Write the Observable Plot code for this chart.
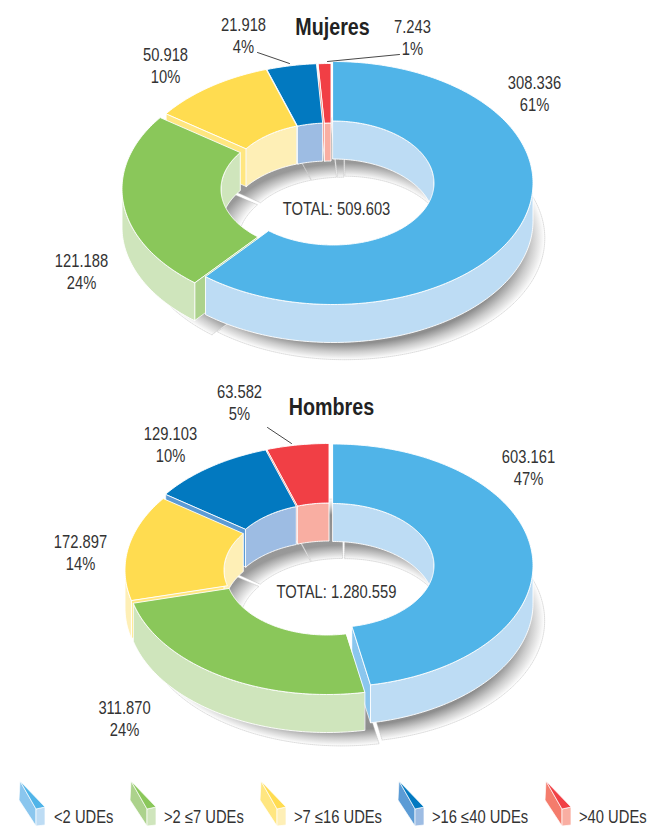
<!DOCTYPE html>
<html><head><meta charset="utf-8">
<script src="https://cdn.jsdelivr.net/npm/d3@7"></script>
<script src="https://cdn.jsdelivr.net/npm/@observablehq/plot@0.6"></script>
<style>
html,body{margin:0;padding:0;background:#fff;overflow:hidden}
svg text{font-family:"Liberation Sans",Arial,sans-serif;}
#legend{display:block}
</style></head><body>
<div id="chart"></div>
<script>
// ---- data ----
const categories = ["<2 UDEs", ">2 ≤7 UDEs", ">7 ≤16 UDEs", ">16 ≤40 UDEs", ">40 UDEs"];
const mujeresValues = [308336, 121188, 50918, 21918, 7243];
const mujeresPercent = [61, 24, 10, 4, 1];
const hombresValues = [603161, 311870, 172897, 129103, 63582];
const hombresPercent = [47, 24, 14, 10, 5];
const titles = ["Mujeres", "Hombres"];
const totals = [509603, 1280559];

// ---- styling ----
const topColors  = ["#50B4E8", "#8AC75A", "#FFDC50", "#0279C0", "#F13F45"];
const cutColors  = ["#8AC6EE", "#ACD28C", "#FFE680", "#5B9BD5", "#F47C6C"];
const wallColors = ["#BDDCF4", "#CFE5BC", "#FEEFB6", "#9DBCE3", "#F9AEA2"];
const textColor = "#333";
const condense = .82;

// ---- layout ----
const W = 649, H = 770;
const rx = 200, ry = 121.5, rxIn = 101, ryIn = 62, depth = 38;
const shadowDx = 14, shadowDy = 54;
const mujeresCenters = [[333,183],[322,189],[328,185],[329,185],[331,185]];
const hombresCenters = [[333,565.5],[327,573],[325,570],[327.5,565.5],[329,565]];
const mujeresLabelPos = [[534,88],[81,266],[165,60],[243,30],[412,32]];
const hombresLabelPos = [[528,462],[124,713],[80,547],[170,439],[239,397]];
const titlePos = [[332,34],[331,414]];
const totalPos = [[336,214],[336,597]];
const leaderLines = [
  [[257,52],[289,63]],
  [[327,61],[399,54]],
  [[267,427],[291,443]]
];

const fmt = d3.formatLocale({decimal:",",thousands:".",grouping:[3],currency:["",""]}).format(",d");
const rad = d => d * Math.PI / 180;
const pt = (c, a, rX, rY, dx = 0, dy = 0) => [c[0] + dx + rX * Math.sin(rad(a)), c[1] + dy - rY * Math.cos(rad(a))];

// ribbon between two arcs, sampled along the sector's angle range
function ribbon(key, a0, a1, fa, fb) {
  const rows = [], n = Math.max(1, Math.ceil(a1 - a0));
  for (let i = 0; i <= n; i++) {
    const a = a0 + (a1 - a0) * i / n, p = fa(a), q = fb(a);
    rows.push({key, x1: p[0], y1: p[1], x2: q[0], y2: q[1]});
  }
  return rows;
}
const clip = (a, b, lo, hi) => { const s = Math.max(a, lo), e = Math.min(b, hi); return e > s ? [s, e] : null; };

const donuts = [
  {id: "m", pct: mujeresPercent, centers: mujeresCenters},
  {id: "h", pct: hombresPercent, centers: hombresCenters}
];
const sectors = donuts.flatMap(d => {
  const ends = Array.from(d3.cumsum(d.pct), v => v * 3.6);
  const mean = [d3.mean(d.centers, c => c[0]), d3.mean(d.centers, c => c[1])];
  return d.pct.map((_, i) => ({
    id: `${d.id}${i}`, i, c: d.centers[i], a0: i ? ends[i-1] : 0, a1: ends[i],
    sc: [(d.centers[i][0] + mean[0]) / 2 + shadowDx, (d.centers[i][1] + mean[1]) / 2 + shadowDy]
  }));
});

const innerRows = [], outerRows = [], cutRows = [], topRows = [];
for (const s of sectors) {
  const {id, i, c, a0, a1} = s;
  const colorize = (rows, color) => rows.map(r => ({...r, color}));
  for (const [lo, hi, tag] of [[0, 90, "a"], [270, 360, "b"]]) {
    const r = clip(a0, a1, lo, hi);
    if (r) innerRows.push(...colorize(ribbon(id + tag, r[0], r[1], a => pt(c, a, rxIn, ryIn), a => pt(c, a, rxIn, ryIn, 0, depth)), wallColors[i]));
  }
  const o = clip(a0, a1, 90, 270);
  if (o) outerRows.push(...colorize(ribbon(id, o[0], o[1], a => pt(c, a, rx, ry), a => pt(c, a, rx, ry, 0, depth)), wallColors[i]));
  // a cut face is seen only when it turns toward the viewer
  for (const [a, tag, seen] of [[a0, "s", Math.sin(rad(a0)) < -1e-6], [a1, "e", Math.sin(rad(a1)) > 1e-6]]) {
    if (!seen) continue;
    const p = pt(c, a, rxIn, ryIn), q = pt(c, a, rx, ry);
    cutRows.push({key: id + tag, color: cutColors[i], x1: p[0], y1: p[1], x2: p[0], y2: p[1] + depth},
                 {key: id + tag, color: cutColors[i], x1: q[0], y1: q[1], x2: q[0], y2: q[1] + depth});
  }
  topRows.push(...colorize(ribbon(id, a0, a1, a => pt(c, a, rxIn, ryIn), a => pt(c, a, rx, ry)), topColors[i]));
}

const shadowStops = [[rxIn/rx, "#fff"], [.62, "#999"], [.87, "#8e8e8e"], [.935, "#ccc"], [1, "#fff"]];
const gradients = (index, {x, y}) => {
  const g = d3.create("svg:g"), defs = g.append("defs");
  for (const s of sectors) {
    const lg = defs.append("radialGradient").attr("id", "sh" + s.id).attr("gradientUnits", "userSpaceOnUse")
      .attr("cx", 0).attr("cy", 0).attr("r", 1)
      .attr("gradientTransform", `translate(${x(s.sc[0])},${y(s.sc[1])}) scale(${rx},${ry})`);
    for (const [o, col] of shadowStops) lg.append("stop").attr("offset", o).attr("stop-color", col);
  }
  return g.node();
};
const shadowMarks = sectors.map(s => Plot.area(
  ribbon(s.id, s.a0, s.a1, a => pt(s.sc, a, rxIn, ryIn), a => pt(s.sc, a, rx, ry)),
  {x1: "x1", y1: "y1", x2: "x2", y2: "y2", fill: `url(#sh${s.id})`, stroke: "#bbb", strokeWidth: .5, strokeDasharray: "1,1"}
));
const faces = (rows, sw = .9) => Plot.area(rows, {x1: "x1", y1: "y1", x2: "x2", y2: "y2", z: "key", fill: "color", stroke: "#fff", strokeWidth: sw});

const labelRows = [
  ...mujeresValues.map((v, i) => ({pos: mujeresLabelPos[i], v, p: mujeresPercent[i]})),
  ...hombresValues.map((v, i) => ({pos: hombresLabelPos[i], v, p: hombresPercent[i]}))
];
const base = {textAnchor: "middle", lineAnchor: "bottom", fill: textColor, fontSize: 18};
const marks = [
  gradients,
  ...shadowMarks,
  faces(cutRows, .7),
  faces(innerRows),
  faces(outerRows),
  faces(topRows),
  ...leaderLines.map(l => Plot.line(l, {x: d => d[0], y: d => d[1], stroke: "#333", strokeWidth: .9})),
  Plot.text(labelRows, {...base, x: d => d.pos[0], y: d => d.pos[1], text: d => fmt(d.v)}),
  Plot.text(labelRows, {...base, x: d => d.pos[0], y: d => d.pos[1] + 22, text: d => d.p + "%"}),
  Plot.text(totals, {...base, x: (d, i) => totalPos[i][0], y: (d, i) => totalPos[i][1], text: d => "TOTAL: " + fmt(d)}),
  Plot.text(titles, {...base, x: (d, i) => titlePos[i][0], y: (d, i) => titlePos[i][1], text: d => d, fontSize: 24, fontWeight: "bold", fill: "#222"})
];
const plot = Plot.plot({
  width: W, height: H, margin: 0,
  x: {domain: [0, W], range: [0, W], axis: null},
  y: {domain: [0, H], range: [0, H], axis: null},
  style: {background: "#fff"},
  marks
});
// the reference's type is condensed: narrow each text around its anchor
d3.select(plot).selectAll("text").each(function () {
  const t = this.getAttribute("transform") || "";
  this.setAttribute("transform", `${t} scale(${condense},1)`);
});
document.getElementById("chart").append(plot);

// ---- legend below the chart ----
const legendX = [19, 130, 260, 398, 545];
const legendTextX = [54, 164, 294, 432, 579];
const legend = d3.create("svg").attr("id", "legend").attr("width", W).attr("height", 57);
categories.forEach((c, i) => {
  const g = legend.append("g").attr("transform", `translate(${legendX[i]},10)`).attr("stroke", "#fff").attr("stroke-width", .7);
  g.append("polygon").attr("points", "1,1 17,29 17,46 0,20").attr("fill", cutColors[i]);
  g.append("polygon").attr("points", "17,29 26,27 26,45 17,46").attr("fill", wallColors[i]);
  g.append("polygon").attr("points", "1,1 26,27 17,29").attr("fill", topColors[i]);
  legend.append("text").attr("transform", `translate(${legendTextX[i]},52.5) scale(${condense},1)`).attr("fill", textColor)
    .attr("font-size", 18).text(c);
});
document.getElementById("chart").append(legend.node());
</script>
</body></html>
